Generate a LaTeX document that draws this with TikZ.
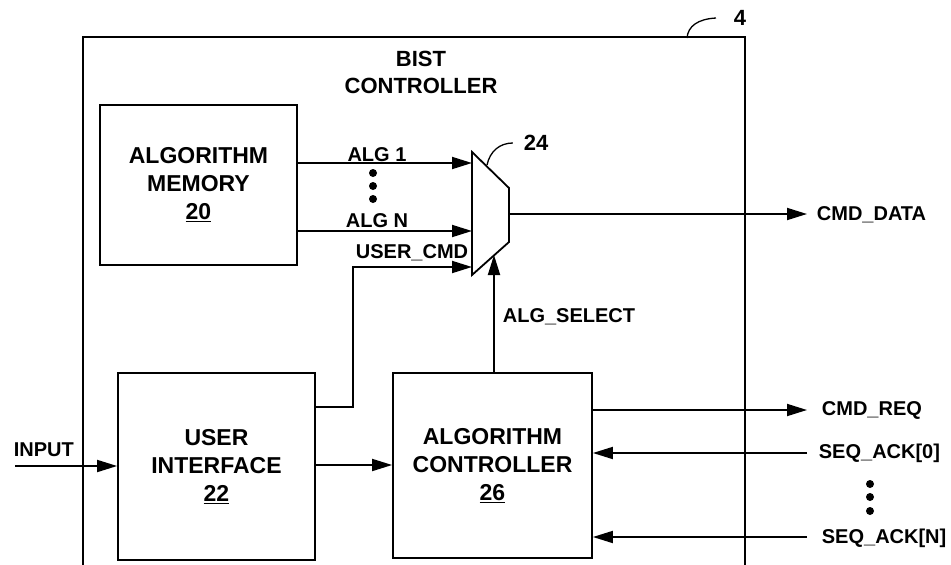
\documentclass[tikz,border=0pt]{standalone}
\usepackage{fontspec}
\setmainfont{Liberation Sans}
\usetikzlibrary{arrows.meta}

\begin{document}
\begin{tikzpicture}[x=1pt, y=-1pt, line width=1.8pt,
    blockbox/.style={draw, align=center, inner sep=0pt,
        font=\fontsize{23}{28}\selectfont\bfseries},
    lbl/.style={inner sep=0pt, font=\fontsize{20}{22}\selectfont\bfseries},
    refnum/.style={inner sep=0pt, font=\fontsize{22}{24}\selectfont\bfseries},
    sig/.style={-{Triangle[length=20pt,width=12pt]}},
    bigdot/.style={circle, fill, inner sep=0pt, minimum size=8pt}]
    \useasboundingbox (0,0) rectangle (951,565);

    % outer controller box (open at the bottom)
    \draw (83,565) -- (83,37) -- (745,37) -- (745,565);
    \node[refnum] (num4) at (740,18) {4};
    \coordinate (lead4) at (687,38);
    \draw[line width=1.3pt] (lead4) .. controls (688,26) and (698,19) .. ([xshift=-17pt]num4.west);
    \node[align=center, font=\fontsize{22}{27}\selectfont\bfseries] (title) at (421,72) {BIST\\CONTROLLER};

    % blocks
    \node[blockbox, minimum width=197pt, minimum height=160pt] (mem) at (198.5,185) {ALGORITHM\\MEMORY\\\underline{20}};
    \node[blockbox, minimum width=197pt, minimum height=187pt] (ui) at (216.5,466.5) {USER\\INTERFACE\\\underline{22}};
    \node[blockbox, minimum width=199pt, minimum height=185pt] (ctrl) at (492.5,465.5) {ALGORITHM\\CONTROLLER\\\underline{26}};

    % multiplexer
    \coordinate (mA) at (472,152);
    \coordinate (mB) at (509,188);
    \coordinate (mC) at (509,242);
    \coordinate (mD) at (472,275);
    \draw[line join=miter] (mA) -- (mB) -- (mC) -- (mD) -- cycle;
    \coordinate (in1) at (472,163);
    \coordinate (inN) at (472,231);
    \coordinate (inU) at (472,267);
    \coordinate (mout) at (509,214);
    \coordinate (msel) at (494,255);
    \node[refnum] (num24) at (536,143) {24};
    \coordinate (lead24) at (487,165);
    \draw[line width=1.3pt] (lead24) .. controls (490,151) and (500,143) .. ([xshift=-10pt]num24.west);

    % algorithm inputs
    \draw[sig] (mem.east |- in1) -- (in1);
    \draw[sig] (mem.east |- inN) -- (inN);
    \node[lbl, anchor=base] (lalg1) at (377,161) {ALG 1};
    \node[lbl, anchor=base] (lalgn) at (377,227) {ALG N};
    \foreach \y/\n in {173/a, 186/b, 199/c}
        \node[bigdot] (dalg\n) at (373,\y) {};

    % user command into the mux
    \coordinate (ucA) at (353,407);
    \coordinate (ucB) at (353,267);
    \draw[sig] (ui.east |- ucA) -- (ucA) -- (ucB) -- (inU);
    \node[lbl, anchor=base] (lucmd) at (412,258) {USER\_CMD};

    % mux output and select
    \coordinate (dout) at (807,214);
    \draw[sig] (mout) -- (dout);
    \node[lbl, anchor=base west] (lcmdd) at (816,220) {CMD\_DATA};
    \draw[sig] (ctrl.north -| msel) -- (msel);
    \node[lbl, anchor=base west] (lsel) at (502,322) {ALG\_SELECT};

    % input and ui to controller
    \coordinate (inp) at (15,466);
    \draw[sig] (inp) -- (ui.west |- inp);
    \node[lbl, anchor=base west] (linput) at (13,456) {INPUT};
    \draw[sig] (ui.east |- 0,465) -- (ctrl.west |- 0,465);

    % request / acknowledge
    \coordinate (req) at (807,410);
    \coordinate (ack0) at (807,453);
    \coordinate (ackn) at (807,537);
    \draw[sig] (ctrl.east |- req) -- (req);
    \draw[sig] (ack0) -- (ctrl.east |- ack0);
    \draw[sig] (ackn) -- (ctrl.east |- ackn);
    \node[lbl, anchor=base west] (lreq) at (821,415) {CMD\_REQ};
    \node[lbl, anchor=base west] (lack0) at (818,458) {SEQ\_ACK[0]};
    \node[lbl, anchor=base west] (lackn) at (821,543) {SEQ\_ACK[N]};
    \foreach \y/\n in {484/a, 497/b, 511/c}
        \node[bigdot] (dack\n) at (870,\y) {};
\end{tikzpicture}
\end{document}
